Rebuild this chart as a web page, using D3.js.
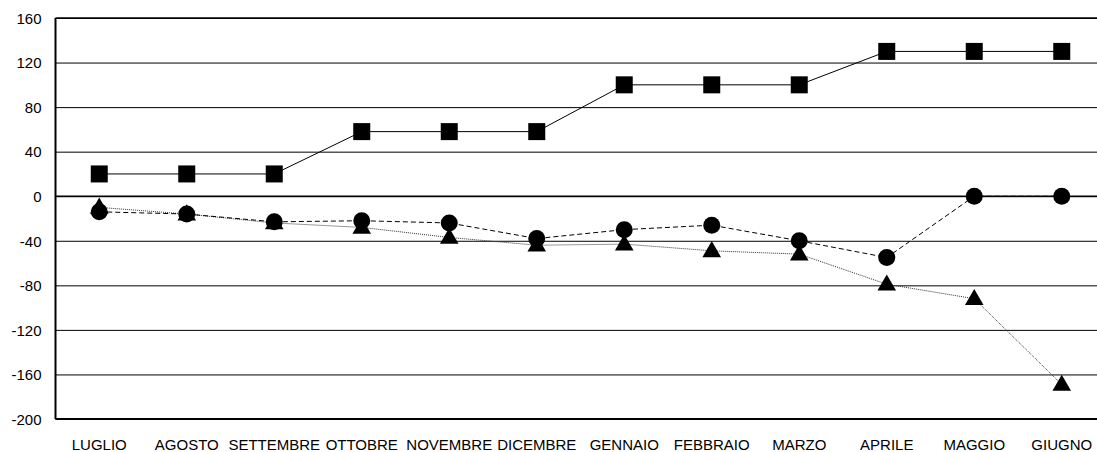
<!DOCTYPE html>
<html>
<head>
<meta charset="utf-8">
<style>
    body { margin: 0; background-color: #fff; }
    svg { display: block; font-family: "Liberation Sans", Arial, sans-serif; }
    .asse-y text, .asse-x text { font-size: 15px; fill: #000; }
    .asse-y .tick line { stroke: #000; stroke-width: 1px; }
    .asse-y .domain, .asse-x .domain, .asse-x .tick line { display: none; }
</style>
<script src="https://cdn.jsdelivr.net/npm/d3@7"></script>
</head>
<body>
<svg width="1097" height="452"></svg>
<script>
    // dati
    var mesi = ["LUGLIO", "AGOSTO", "SETTEMBRE", "OTTOBRE", "NOVEMBRE", "DICEMBRE",
        "GENNAIO", "FEBBRAIO", "MARZO", "APRILE", "MAGGIO", "GIUGNO"];
    var serieQuadrati = [20, 20, 20, 58, 58, 58, 100, 100, 100, 130, 130, 130];
    var serieCerchi = [-14, -16, -23, -22, -24, -38, -30, -26, -40, -55, 0, 0];
    var serieTriangoli = [-10, -16, -24, -28, -37, -44, -43, -49, -52, -79, -92, -169];
    var tickY = [160, 120, 80, 40, 0, -40, -80, -120, -160, -200];

    var svg = d3.select("svg");
    var sinistra = 55.5, alto = 18, basso = 419, passo = 87.5;
    var destra = sinistra + passo * mesi.length;

    var x = d3.scaleBand()
        .domain(mesi)
        .range([sinistra, destra]);

    var y = d3.scaleLinear()
        .domain([-200, 160])
        .range([basso, alto]);

    function cx(i) { return x(mesi[i]) + x.bandwidth() / 2; }

    // griglia ed etichette asse y (trattino semplice, non il segno meno unicode)
    svg.append("g")
        .attr("class", "asse-y")
        .attr("transform", "translate(" + sinistra + ",0)")
        .call(d3.axisLeft(y)
            .tickValues(tickY)
            .tickFormat(function (d) { return String(d); })
            .tickSize(-(destra - sinistra))
            .tickPadding(14))
        .selectAll("text")
        .attr("dy", "0.35em");

    // bordo superiore e linea dello zero piu' spessi
    svg.append("line")
        .attr("x1", sinistra).attr("x2", destra)
        .attr("y1", y(160)).attr("y2", y(160))
        .attr("stroke", "#000").attr("stroke-width", 1.5);
    svg.append("line")
        .attr("x1", sinistra).attr("x2", destra)
        .attr("y1", y(0)).attr("y2", y(0))
        .attr("stroke", "#000").attr("stroke-width", 1.5);

    // assi
    svg.append("line")
        .attr("x1", sinistra).attr("x2", sinistra)
        .attr("y1", alto).attr("y2", basso)
        .attr("stroke", "#000").attr("stroke-width", 2);
    svg.append("line")
        .attr("x1", sinistra).attr("x2", destra)
        .attr("y1", basso).attr("y2", basso)
        .attr("stroke", "#000").attr("stroke-width", 2);

    svg.append("g")
        .attr("class", "asse-x")
        .attr("transform", "translate(0," + basso + ")")
        .call(d3.axisBottom(x).tickSize(0).tickPadding(20));

    var linea = d3.line()
        .x(function (d, i) { return cx(i); })
        .y(function (d) { return y(d); });

    // triangoli (linea punteggiata)
    svg.append("path")
        .datum(serieTriangoli)
        .attr("d", linea)
        .attr("fill", "none")
        .attr("stroke", "#333")
        .attr("stroke-width", 1)
        .attr("stroke-dasharray", "1,1");

    // cerchi (linea tratteggiata)
    svg.append("path")
        .datum(serieCerchi)
        .attr("d", linea)
        .attr("fill", "none")
        .attr("stroke", "#000")
        .attr("stroke-width", 1)
        .attr("stroke-dasharray", "5,3");

    // quadrati (linea continua)
    svg.append("path")
        .datum(serieQuadrati)
        .attr("d", linea)
        .attr("fill", "none")
        .attr("stroke", "#000")
        .attr("stroke-width", 1);

    var triangolo = d3.symbol().type(d3.symbolTriangle).size(150);
    svg.append("g").selectAll("path")
        .data(serieTriangoli)
        .enter().append("path")
        .attr("d", triangolo)
        .attr("transform", function (d, i) { return "translate(" + cx(i) + "," + (y(d) + 1) + ")"; })
        .attr("fill", "#000");

    svg.append("g").selectAll("circle")
        .data(serieCerchi)
        .enter().append("circle")
        .attr("cx", function (d, i) { return cx(i); })
        .attr("cy", function (d) { return y(d); })
        .attr("r", 8.5)
        .attr("fill", "#000");

    svg.append("g").selectAll("rect")
        .data(serieQuadrati)
        .enter().append("rect")
        .attr("x", function (d, i) { return cx(i) - 8.5; })
        .attr("y", function (d) { return y(d) - 8.5; })
        .attr("width", 17)
        .attr("height", 17)
        .attr("fill", "#000");
</script>
</body>
</html>
